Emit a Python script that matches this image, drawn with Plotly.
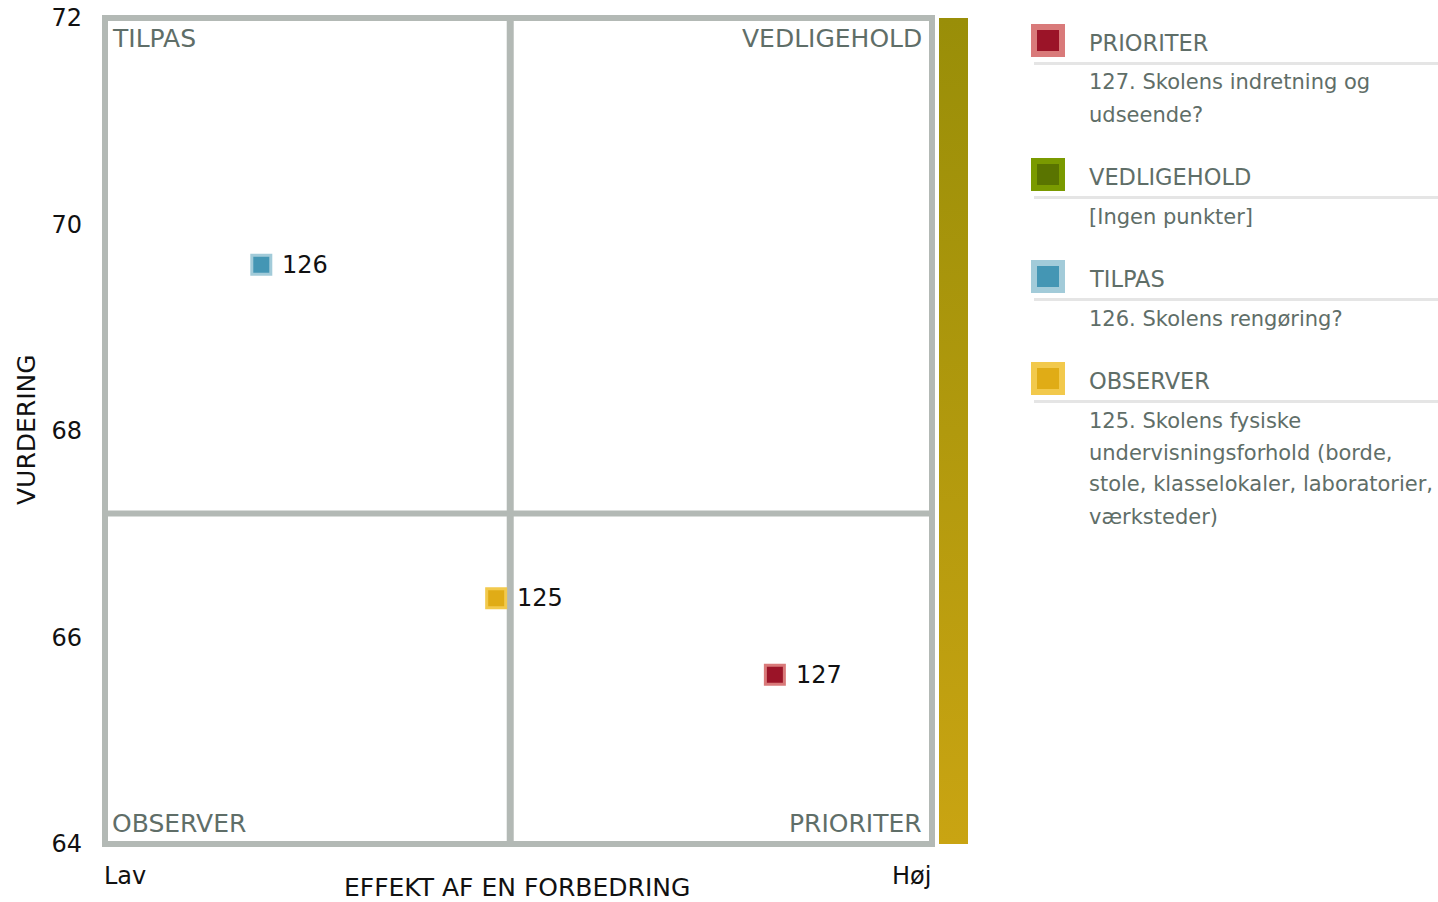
import plotly.graph_objects as go

# ---------------- data ----------------
point_ids = ["126", "125", "127"]
effekt = [18.9, 47.3, 81.0]          # x: effekt af en forbedring (0-100 scale)
vurdering = [69.61, 66.38, 65.64]    # y: vurdering
point_quadrant = ["TILPAS", "OBSERVER", "PRIORITER"]

x_mid = 49.0
y_mid = 67.2
x_range = [0, 100]
y_range = [64, 72]
y_ticks = [64, 66, 68, 70, 72]

legend_names = ["PRIORITER", "VEDLIGEHOLD", "TILPAS", "OBSERVER"]
legend_texts = [
    ["127. Skolens indretning og", "udseende?"],
    ["[Ingen punkter]"],
    ["126. Skolens rengøring?"],
    ["125. Skolens fysiske", "undervisningsforhold (borde,",
     "stole, klasselokaler, laboratorier,", "værksteder)"],
]

# ---------------- style ----------------
FILL = {"PRIORITER": "#9b1428", "VEDLIGEHOLD": "#5a7400",
        "TILPAS": "#4496b4", "OBSERVER": "#e0ac16"}
EDGE = {"PRIORITER": "#d97a7a", "VEDLIGEHOLD": "#7a9a00",
        "TILPAS": "#a2cbd9", "OBSERVER": "#f2c94c"}
BORDER = "#b3b9b5"
GREY_TXT = "#5f6e68"
FONT = "DejaVu Sans"

W, H = 1438, 902
L, R, T, B = 105, 506, 18, 58
PW = W - L - R
PH = H - T - B


def px(xp):
    return (xp - L) / PW


def py(yp):
    return (H - B - yp) / PH


fig = go.Figure()
annotations = []

for pid, xv, yv, q in zip(point_ids, effekt, vurdering, point_quadrant):
    fig.add_trace(go.Scatter(
        x=[xv], y=[yv], mode="markers", showlegend=False, hoverinfo="skip",
        marker=dict(symbol="square", size=19, color=FILL[q],
                    line=dict(color=EDGE[q], width=3)),
    ))
    annotations.append(dict(x=xv, y=yv, xref="x", yref="y", text=pid,
                            showarrow=False, xanchor="left", yanchor="middle",
                            xshift=19, font=dict(family=FONT, size=24, color="#111111")))

# gradient bar via colorbar on an empty trace
fig.add_trace(go.Scatter(
    x=[None], y=[None], mode="markers", showlegend=False, hoverinfo="skip",
    marker=dict(color=[0], cmin=0, cmax=1, showscale=True,
                colorscale=[[0, "#c9a412"], [1, "#998e08"]],
                colorbar=dict(x=px(939), xanchor="left", xpad=0, ypad=0,
                              y=0.5, yanchor="middle", len=1, lenmode="fraction",
                              thickness=29, thicknessmode="pixels",
                              outlinewidth=0, showticklabels=False, ticks="")),
))

shapes = []
# midlines
shapes.append(dict(type="line", xref="x", yref="paper", x0=x_mid, x1=x_mid, y0=0, y1=1,
                   line=dict(color=BORDER, width=7), layer="below"))
shapes.append(dict(type="line", xref="paper", yref="y", x0=0, x1=1, y0=y_mid, y1=y_mid,
                   line=dict(color=BORDER, width=6), layer="below"))
# border
shapes.append(dict(type="rect", xref="paper", yref="paper", x0=0, x1=1, y0=0, y1=1,
                   line=dict(color=BORDER, width=6), layer="below"))

# quadrant labels
quad_labels = [("TILPAS", 110, 38, "left"), ("VEDLIGEHOLD", 924, 38, "right"),
               ("OBSERVER", 110, 823, "left"), ("PRIORITER", 924, 823, "right")]
for txt, xp, yp, anc in quad_labels:
    annotations.append(dict(x=px(xp), y=py(yp), xref="paper", yref="paper", text=txt,
                            showarrow=False, xanchor=anc, yanchor="middle",
                            font=dict(family=FONT, size=25, color=GREY_TXT)))

# axis labels
annotations.append(dict(x=px(102), y=py(876), xref="paper", yref="paper", text="Lav",
                        showarrow=False, xanchor="left", yanchor="middle",
                        font=dict(family=FONT, size=24, color="#111111")))
annotations.append(dict(x=px(933), y=py(876), xref="paper", yref="paper", text="Høj",
                        showarrow=False, xanchor="right", yanchor="middle",
                        font=dict(family=FONT, size=24, color="#111111")))
annotations.append(dict(x=px(517), y=py(887), xref="paper", yref="paper",
                        text="EFFEKT AF EN FORBEDRING",
                        showarrow=False, xanchor="center", yanchor="middle",
                        font=dict(family=FONT, size=25, color="#111111")))
annotations.append(dict(x=px(26), y=py(430), xref="paper", yref="paper",
                        text="VURDERING", textangle=-90,
                        showarrow=False, xanchor="center", yanchor="middle",
                        font=dict(family=FONT, size=25, color="#111111")))

# custom legend
top = 24
for name, lines in zip(legend_names, legend_texts):
    shapes.append(dict(type="rect", xref="paper", yref="paper",
                       x0=px(1034), x1=px(1062), y0=py(top + 30), y1=py(top + 3),
                       fillcolor=FILL[name], line=dict(color=EDGE[name], width=6)))
    annotations.append(dict(x=px(1087), y=py(top + 19), xref="paper", yref="paper",
                            text=name, showarrow=False, xanchor="left", yanchor="middle",
                            font=dict(family=FONT, size=22.5, color=GREY_TXT)))
    shapes.append(dict(type="line", xref="paper", yref="paper",
                       x0=px(1034), x1=px(1438), y0=py(top + 39.5), y1=py(top + 39.5),
                       line=dict(color="#e5e5e5", width=3)))
    yl = top + 58.5
    for ln in lines:
        annotations.append(dict(x=px(1087), y=py(yl), xref="paper", yref="paper",
                                text=ln, showarrow=False, xanchor="left", yanchor="middle",
                                font=dict(family=FONT, size=21, color=GREY_TXT)))
        yl += 32
    top = yl - 32 + 43.5

fig.update_layout(
    width=W, height=H,
    margin=dict(l=L, r=R, t=T, b=B, pad=0, autoexpand=False),
    paper_bgcolor="white", plot_bgcolor="white",
    shapes=shapes, annotations=annotations,
    xaxis=dict(range=x_range, showgrid=False, zeroline=False, showline=False,
               showticklabels=False, ticks="", fixedrange=True),
    yaxis=dict(range=y_range, tickvals=y_ticks, ticktext=[str(v) for v in y_ticks],
               showgrid=False, zeroline=False, showline=False, ticks="",
               ticklabelstandoff=22, fixedrange=True,
               tickfont=dict(family=FONT, size=24, color="#111111")),
    font=dict(family=FONT),
)

post = ("document.body.style.margin='0';document.body.style.overflow='hidden';"
        "var gd=document.getElementById('{plot_id}');"
        "gd.style.position='absolute';gd.style.top='0px';gd.style.left='0px';")
fig.write_html("out.html", post_script=post, config={"displayModeBar": False})
